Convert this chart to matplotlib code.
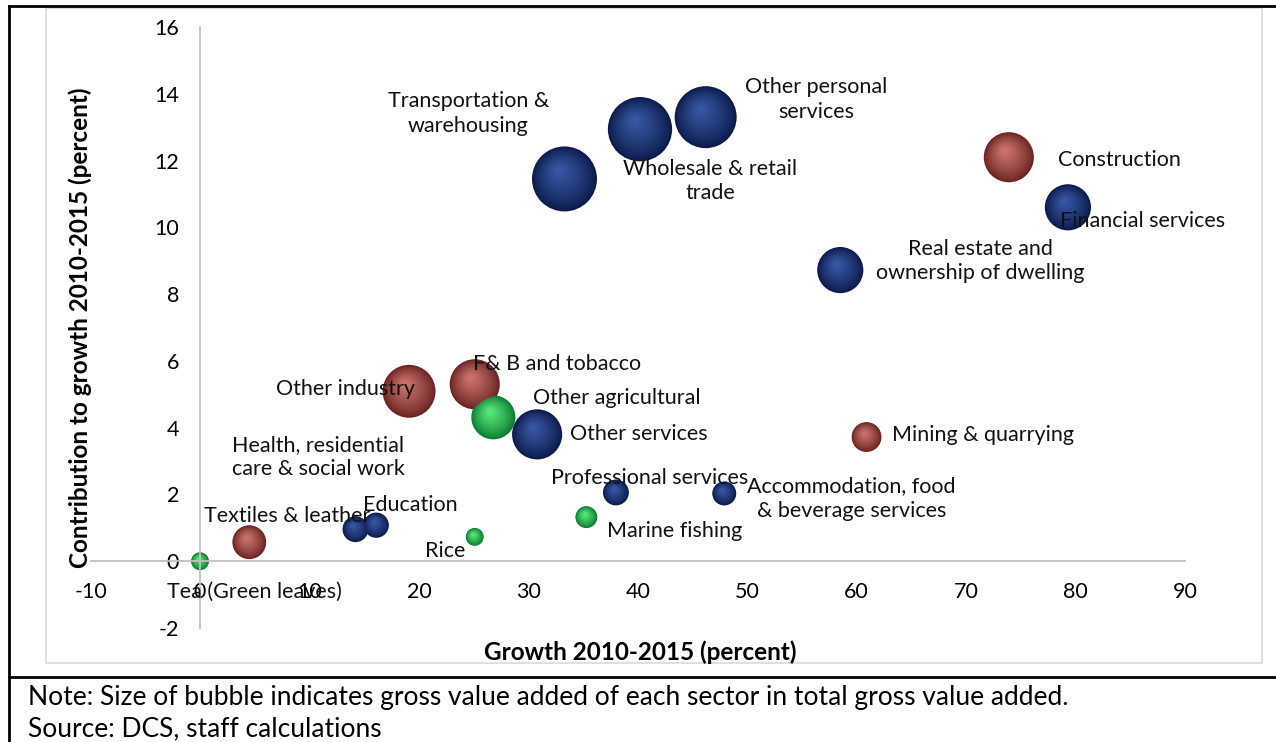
import matplotlib.pyplot as plt
from matplotlib.patches import Rectangle
from matplotlib.lines import Line2D
from matplotlib.transforms import ScaledTranslation
import numpy as np

plt.rcParams['font.family'] = ['Lato', 'DejaVu Sans']
plt.rcParams['axes.unicode_minus'] = False

# sector data: growth 2010-2015 (%), contribution to growth (pp), share of GVA (%)
sectors = ['Tea (Green leaves)', 'Textiles & leather', 'Health, residential\ncare & social work',
           'Education', 'Rice', 'Other industry', 'F& B and tobacco', 'Other agricultural',
           'Other services', 'Professional services', 'Marine fishing',
           'Accommodation, food\n& beverage services', 'Transportation &\nwarehousing',
           'Wholesale & retail\ntrade', 'Other personal\nservices', 'Real estate and\nownership of dwelling',
           'Mining & quarrying', 'Construction', 'Financial services']
growth = [0.0, 4.5, 14.2, 16.1, 25.1, 19.1, 25.1, 26.8, 30.8, 38.0, 35.3,
          47.9, 33.3, 40.2, 46.2, 58.5, 60.9, 73.9, 79.3]
contrib = [0.0, 0.57, 0.96, 1.08, 0.73, 5.09, 5.30, 4.31, 3.80, 2.06, 1.32,
           2.03, 11.45, 12.94, 13.30, 8.72, 3.72, 12.10, 10.60]
gva_share = [1.0, 3.6, 2.1, 2.0, 1.0, 8.8, 7.9, 6.1, 7.9, 2.1, 1.5,
             1.8, 13.3, 13.0, 12.1, 6.7, 2.8, 7.9, 6.7]
group = ['agri', 'ind', 'serv', 'serv', 'agri', 'ind', 'ind', 'agri', 'serv', 'serv', 'agri',
         'serv', 'serv', 'serv', 'serv', 'serv', 'ind', 'ind', 'serv']

# label anchor (x, y) for each sector
label_pos = {
    'Tea (Green leaves)': (5.0, -0.93),
    'Textiles & leather': (8.0, 1.35),
    'Health, residential\ncare & social work': (10.8, 3.12),
    'Education': (19.2, 1.68),
    'Rice': (22.4, 0.30),
    'Other industry': (13.25, 5.15),
    'F& B and tobacco': (32.6, 5.90),
    'Other agricultural': (38.1, 4.88),
    'Other services': (40.1, 3.80),
    'Professional services': (41.1, 2.49),
    'Marine fishing': (43.4, 0.90),
    'Accommodation, food\n& beverage services': (59.5, 1.89),
    'Transportation &\nwarehousing': (24.5, 13.42),
    'Wholesale & retail\ntrade': (46.6, 11.39),
    'Other personal\nservices': (56.3, 13.84),
    'Real estate and\nownership of dwelling': (71.3, 8.99),
    'Mining & quarrying': (71.5, 3.78),
    'Construction': (84.0, 12.01),
    'Financial services': (86.1, 10.19),
}

# (edge, highlight) colours per group
palette = {
    'serv': ('#0b1a4a', '#3a5cab'),
    'ind': ('#6a2220', '#d27a74'),
    'agri': ('#0a7a30', '#5ef07e'),
}

DPI = 100
W, H = 1276, 742
fig = plt.figure(figsize=(W / DPI, H / DPI), dpi=DPI)
ax = fig.add_axes([0.0710, 0.1536, 0.8577, 0.8100])
ax.set_xlim(-10, 90)
ax.set_ylim(-2, 16)

def mix(c1, c2, t):
    a = np.array(plt.matplotlib.colors.to_rgb(c1))
    b = np.array(plt.matplotlib.colors.to_rgb(c2))
    return tuple(a + (b - a) * t)

# bubbles drawn as shaded spheres: stacked discs shifted toward the highlight
max_r = 32.5
n_layers = 22
order = np.argsort(gva_share)[::-1]
for i in order:
    r_px = max_r * np.sqrt(gva_share[i] / max(gva_share))
    edge, light = palette[group[i]]
    for k in range(n_layers):
        f = 1.0 - 0.88 * k / (n_layers - 1)
        t = (1 - f) ** 0.8
        dx = -0.18 * r_px * (1 - f) / DPI
        dy = 0.30 * r_px * (1 - f) / DPI
        tr = ax.transData + ScaledTranslation(dx, dy, fig.dpi_scale_trans)
        d_pt = 2 * r_px * f * 72 / DPI
        ax.scatter([growth[i]], [contrib[i]], s=d_pt ** 2, color=mix(edge, light, t),
                   edgecolors='none', transform=tr, zorder=2 + k * 0.001)

for name in sectors:
    lx, ly = label_pos[name]
    ax.text(lx, ly, name, ha='center', va='center', fontsize=15.5, color='#111111',
            linespacing=1.3, zorder=10)

# axes crossing at the origin
for s in ['top', 'right']:
    ax.spines[s].set_visible(False)
ax.spines['bottom'].set_position(('data', 0))
ax.spines['left'].set_position(('data', 0))
for s in ['bottom', 'left']:
    ax.spines[s].set_color('#bfbfbf')
    ax.spines[s].set_linewidth(1.3)
ax.set_xticks(np.arange(-10, 91, 10))
ax.set_yticks(np.arange(-2, 17, 2))
ax.tick_params(axis='x', length=0, labelsize=15.5, pad=15)
ax.tick_params(axis='y', length=0, labelsize=15.5, pad=15)

fig.text(640 / W, 1 - 652 / H, 'Growth 2010-2015 (percent)', fontsize=17.5, fontweight='bold',
         ha='center', va='center')
fig.text(80 / W, 1 - 328 / H, 'Contribution to growth 2010-2015 (percent)', fontsize=17.5,
         fontweight='bold', rotation=90, ha='center', va='center')

# chart frame and surrounding table lines
fig.add_artist(Rectangle((46 / W, 1 - 663 / H), (1262 - 46) / W, (663 - 8) / H,
                         transform=fig.transFigure, fill=False, edgecolor='#d9d9d9', lw=1.2))
fig.add_artist(Line2D([9 / W, 1], [1 - 6 / H, 1 - 6 / H], transform=fig.transFigure, color='black', lw=2))
fig.add_artist(Line2D([9 / W, 1], [1 - 677 / H, 1 - 677 / H], transform=fig.transFigure, color='black', lw=2))
fig.add_artist(Line2D([9 / W, 9 / W], [0, 1 - 6 / H], transform=fig.transFigure, color='black', lw=2))

fig.text(28 / W, 1 - 698 / H, 'Note: Size of bubble indicates gross value added of each sector in total gross value added.',
         fontsize=19, va='center', ha='left')
fig.text(28 / W, 1 - 729 / H, 'Source: DCS, staff calculations', fontsize=19, va='center', ha='left')

fig.savefig('out.png', dpi=DPI)
